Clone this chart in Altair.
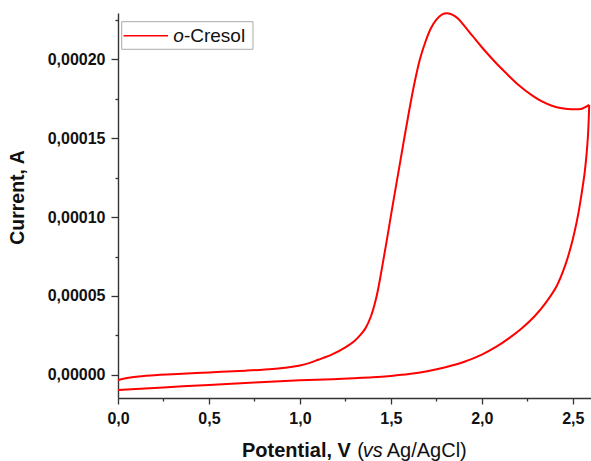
import altair as alt
import pandas as pd

# Forward scan (oxidation branch), current in microamperes
fwd_V = [0.0, 0.05, 0.1, 0.2, 0.3, 0.5, 0.7, 0.85, 0.95, 1.0, 1.05, 1.1, 1.18, 1.25, 1.3,
         1.33, 1.36, 1.39, 1.42, 1.45, 1.48, 1.51, 1.54, 1.57, 1.60, 1.63, 1.66, 1.69, 1.72,
         1.75, 1.78, 1.81, 1.84, 1.87, 1.89, 1.95, 2.0, 2.07, 2.13, 2.2, 2.276, 2.33, 2.385,
         2.44, 2.495, 2.55, 2.59]
fwd_I = [-3.2, -2.0, -1.1, -0.2, 0.5, 1.6, 2.7, 3.8, 5.0, 6.0, 7.5, 9.6, 13.2, 17.5, 21.5,
         25.0, 29.5, 37.0, 49.0, 67.0, 87.0, 107.5, 127.5, 147.5, 167.0, 185.0, 200.0, 211.0,
         219.5, 225.0, 228.2, 229.0, 228.0, 225.5, 223.0, 214.5, 207.5, 198.5, 191.5, 183.8,
         177.0, 173.2, 170.5, 168.9, 168.2, 168.6, 171.0]
# Reverse scan
rev_V = [2.59, 2.588, 2.583, 2.575, 2.565, 2.55, 2.53, 2.50, 2.46, 2.41, 2.35, 2.29, 2.22,
         2.15, 2.08, 2.0, 1.9, 1.8, 1.7, 1.6, 1.5, 1.4, 1.3, 1.18, 1.0, 0.75, 0.5, 0.25, 0.0]
rev_I = [171.0, 163.0, 151.0, 139.0, 128.0, 116.0, 102.0, 86.0, 70.0, 56.0, 45.5, 37.2, 29.6,
         23.3, 17.9, 12.9, 8.2, 4.9, 2.4, 0.6, -0.6, -1.5, -2.1, -2.7, -3.4, -4.8, -6.3, -7.9,
         -9.5]

x_ticks = [0.0, 0.25, 0.5, 0.75, 1.0, 1.25, 1.5, 1.75, 2.0, 2.25, 2.5]
y_ticks = [0.0, 0.000025, 0.00005, 0.000075, 0.0001, 0.000125, 0.00015, 0.000175,
           0.0002, 0.000225]

df = pd.DataFrame({
    "V": fwd_V + rev_V,
    "I": [v * 1e-6 for v in fwd_I] + [v * 1e-6 for v in rev_I],
    "branch": ["forward"] * len(fwd_V) + ["reverse"] * len(rev_V),
})

FONT = "Liberation Sans"
AX = "#333333"

xaxis = alt.Axis(
    values=x_ticks,
    labelExpr="round(datum.value*4) % 2 == 1 ? '' : replace(format(datum.value, '.1f'), '.', ',')",
    tickSize={"condition": {"test": "round(datum.value*4) % 2 == 1", "value": 3}, "value": 6},
    labelFont=FONT, labelFontSize=16, labelFontWeight="bold", labelColor="#111111",
    domainColor=AX, tickColor=AX, domainWidth=1.4, tickWidth=1.3,
    grid=False, title=None, labelPadding=6, labelFlush=False, labelOverlap=False,
)
yaxis = alt.Axis(
    values=y_ticks,
    labelExpr="round(datum.value/0.000025) % 2 == 1 ? '' : replace(format(datum.value, '.5f'), '.', ',')",
    tickSize={"condition": {"test": "round(datum.value/0.000025) % 2 == 1", "value": 3}, "value": 7},
    labelFont=FONT, labelFontSize=16, labelFontWeight="bold", labelColor="#111111",
    domainColor=AX, tickColor=AX, domainWidth=1.4, tickWidth=1.3,
    grid=False, title=None, labelPadding=6, labelFlush=False, labelOverlap=False,
)

line = alt.Chart(df).mark_line(color="#ff0000", strokeWidth=2, interpolate="catmull-rom").encode(
    x=alt.X("V:Q", scale=alt.Scale(domain=[0, 2.6], nice=False, zero=False), axis=xaxis),
    y=alt.Y("I:Q", scale=alt.Scale(domain=[-0.0000146, 0.0002292], nice=False, zero=False), axis=yaxis),
    detail="branch:N",
)

one = pd.DataFrame({"k": [0]})

legend_box = alt.Chart(one).mark_rect(fill="white", stroke="#aaaaaa", strokeWidth=1).encode(
    x=alt.value(3.7), x2=alt.value(135), y=alt.value(8.7), y2=alt.value(36.3)
)
legend_line = alt.Chart(one).mark_rule(color="#ff0000", strokeWidth=1.5).encode(
    x=alt.value(5.5), x2=alt.value(50), y=alt.value(22.7)
)
legend_o = alt.Chart(one).mark_text(
    font=FONT, fontSize=19, fontStyle="italic", align="left", baseline="alphabetic", color="#111111"
).encode(x=alt.value(55.3), y=alt.value(29.3), text=alt.value("o"))
legend_rest = alt.Chart(one).mark_text(
    font=FONT, fontSize=19, align="left", baseline="alphabetic", color="#111111"
).encode(x=alt.value(65.9), y=alt.value(29.3), text=alt.value("-Cresol"))

y_title = alt.Chart(one).mark_text(
    font=FONT, fontSize=19.5, fontWeight="bold", angle=270, align="center", baseline="middle",
    color="#111111"
).encode(x=alt.value(-100.5), y=alt.value(184.5), text=alt.value("Current, A"))

xt1 = alt.Chart(one).mark_text(
    font=FONT, fontSize=20, fontWeight="bold", align="left", baseline="alphabetic", color="#111111"
).encode(x=alt.value(124), y=alt.value(443.7), text=alt.value("Potential, V"))
xt2 = alt.Chart(one).mark_text(
    font=FONT, fontSize=20, align="left", baseline="alphabetic", color="#111111"
).encode(x=alt.value(239.3), y=alt.value(443.7), text=alt.value("("))
xt3 = alt.Chart(one).mark_text(
    font=FONT, fontSize=20, fontStyle="italic", align="left", baseline="alphabetic", color="#111111"
).encode(x=alt.value(244.7), y=alt.value(443.7), text=alt.value("vs"))
xt4 = alt.Chart(one).mark_text(
    font=FONT, fontSize=20, align="left", baseline="alphabetic", color="#111111"
).encode(x=alt.value(268.7), y=alt.value(443.7), text=alt.value("Ag/AgCl)"))

chart = alt.layer(
    line, legend_box, legend_line, legend_o, legend_rest, y_title, xt1, xt2, xt3, xt4
).properties(
    width=473, height=385,
    padding={"left": 118, "top": 13, "right": 0, "bottom": 63},
    autosize=alt.AutoSizeParams(type="none"),
    background="white",
).configure_view(stroke=None)

chart.save("out.html", embed_options={"renderer": "svg", "actions": False})
